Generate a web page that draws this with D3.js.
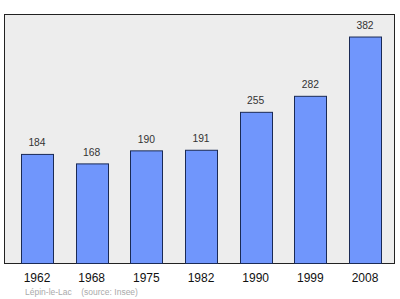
<!DOCTYPE html>
<html>
<head>
<meta charset="utf-8">
<script src="https://cdn.jsdelivr.net/npm/d3@7"></script>
<style>
body { margin: 0; background: #fff; }
</style>
</head>
<body>
<div id="chart_area"></div>
<script>
// data
var years = ["1962", "1968", "1975", "1982", "1990", "1999", "2008"];
var population = [184, 168, 190, 191, 255, 282, 382];

var sFrameWidth = 400;
var sFrameHeight = 299;

// plot box
var box = { left: 4.5, top: 14.5, right: 394.5, bottom: 263.5 };

var sFrame = d3.select("#chart_area").append("svg")
	.attr("width", sFrameWidth)
	.attr("height", sFrameHeight)
	.style("font-family", "'Liberation Sans', Arial, sans-serif");

sFrame.append("rect")
	.attr("x", box.left)
	.attr("y", box.top)
	.attr("width", box.right - box.left)
	.attr("height", box.bottom - box.top)
	.attr("fill", "#ededed")
	.attr("stroke", "#222")
	.attr("stroke-width", 1);

var x = d3.scaleBand()
	.domain(years)
	.range([4.6, 397.4])
	.paddingInner(0.415)
	.paddingOuter(0.3);

var y = d3.scaleLinear()
	.domain([0, 420])
	.range([box.bottom, box.top]);

var bars = sFrame.append("g");

bars.selectAll("rect")
	.data(population)
	.enter().append("rect")
	.attr("x", function(d, i){ return Math.round(x(years[i])) + 0.5; })
	.attr("y", function(d){ return y(d); })
	.attr("width", Math.round(x.bandwidth()))
	.attr("height", function(d){ return box.bottom - y(d); })
	.attr("fill", "#7096fc")
	.attr("stroke", "#1a2a55")
	.attr("stroke-width", 1);

bars.selectAll("text")
	.data(population)
	.enter().append("text")
	.attr("x", function(d, i){ return x(years[i]) + x.bandwidth() / 2; })
	.attr("y", function(d){ return y(d) - 8; })
	.attr("text-anchor", "middle")
	.attr("font-size", 10.3)
	.attr("fill", "#333")
	.text(function(d){ return d; });

// year labels
var xAxis = sFrame.append("g")
	.attr("transform", "translate(0," + box.bottom + ")")
	.call(d3.axisBottom(x).tickSize(0).tickPadding(10));
xAxis.select(".domain").remove();
xAxis.selectAll("text")
	.attr("font-size", 12)
	.attr("font-family", "'Liberation Sans', Arial, sans-serif")
	.attr("fill", "#111");

sFrame.append("text")
	.attr("x", 25)
	.attr("y", 295)
	.attr("font-size", 8.5)
	.attr("fill", "#aaa")
	.attr("xml:space", "preserve")
	.text("Lépin-le-Lac    (source: Insee)");
</script>
</body>
</html>
